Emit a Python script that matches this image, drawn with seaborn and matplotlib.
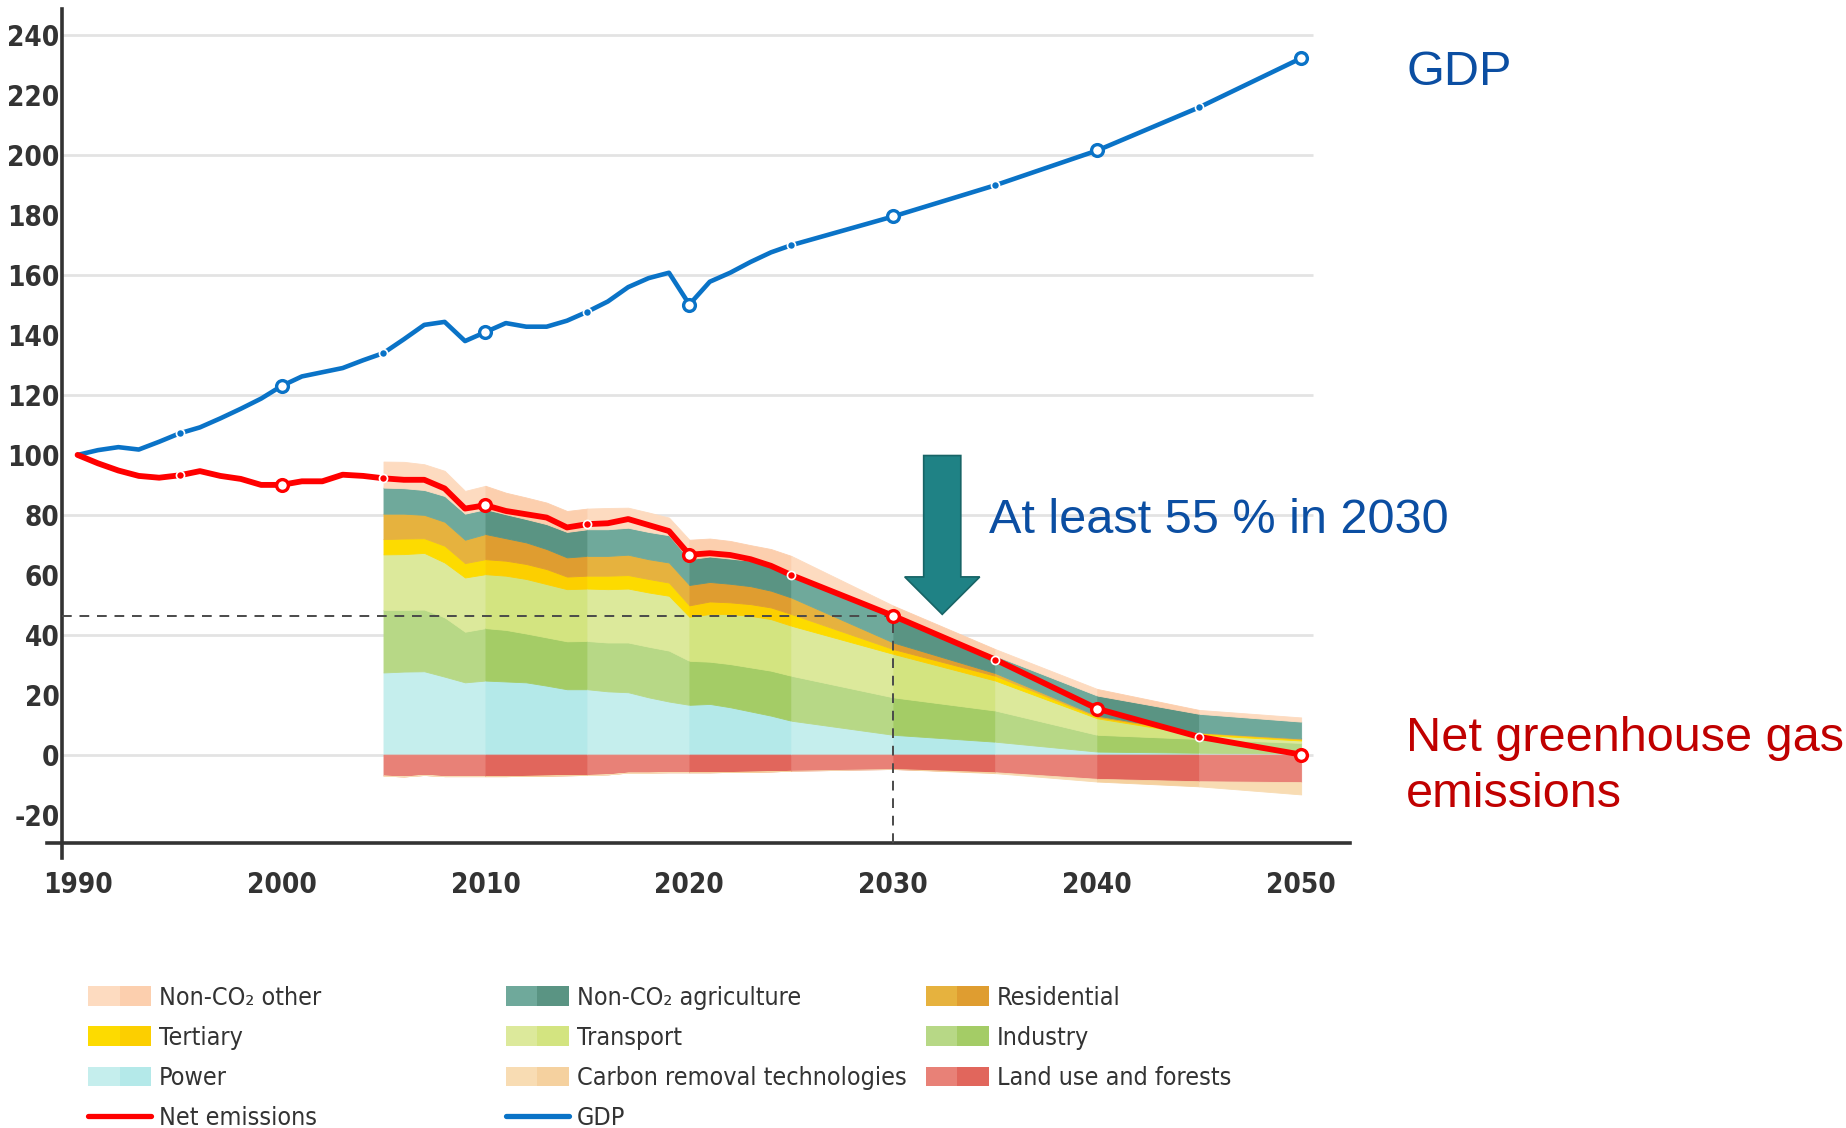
import numpy as np
import pandas as pd
import matplotlib
matplotlib.use('Agg')
import matplotlib.pyplot as plt
import seaborn as sns
from matplotlib import font_manager as fm
from matplotlib.patches import Patch, FancyArrow
from matplotlib.lines import Line2D
from matplotlib.legend_handler import HandlerTuple

# ---- values (index, 1990 = 100) ----
line_years = list(range(1990, 2026)) + [2030, 2035, 2040, 2045, 2050]
gdp = [100, 101.6, 102.6, 101.8, 104.4, 107.2, 109.2, 112.2, 115.4, 118.8,
       123.0, 126.2, 127.6, 129.0, 131.6, 134.0, 138.6, 143.4, 144.4, 138.0,
       141.0, 144.0, 142.8, 142.8, 144.8, 147.8, 151.2, 156.0, 159.0, 160.8,
       150.2, 157.8, 160.8, 164.4, 167.6, 170.0,
       179.6, 190.0, 201.6, 216.0, 232.4]
net_emissions = [100, 97.2, 94.8, 93.0, 92.4, 93.2, 94.6, 93.0, 92.0, 90.0,
                 90.0, 91.2, 91.2, 93.4, 93.0, 92.2, 91.7, 91.7, 88.8, 82.1,
                 83.2, 81.3, 80.2, 79.1, 75.8, 76.9, 77.2, 78.6, 76.6, 74.6,
                 66.7, 67.2, 66.6, 65.2, 63.0, 59.9,
                 46.3, 31.7, 15.3, 5.9, 0.0]

stack_years = list(range(2005, 2026)) + [2030, 2035, 2040, 2045, 2050]
power = [27.4, 27.7, 27.8, 26.0, 24.1, 24.7, 24.4, 24.1, 23.0, 21.8, 21.8, 21.1, 20.8,
         19.1, 17.7, 16.6, 16.9, 15.8, 14.4, 13.0, 11.3, 6.6, 4.3, 1.0, 0.6, 0.4]
industry = [20.9, 20.6, 20.6, 19.8, 16.9, 17.5, 17.2, 16.3, 16.1, 16.0, 16.1, 16.3, 16.6,
            16.9, 17.0, 14.7, 14.1, 14.4, 14.7, 15.0, 15.0, 12.5, 10.4, 5.6, 4.6, 3.5]
transport = [18.5, 18.6, 18.9, 18.3, 18.1, 18.0, 18.1, 18.2, 17.8, 17.4, 17.5, 17.8, 18.0,
             18.1, 18.3, 14.7, 15.9, 16.7, 17.2, 17.2, 16.7, 14.5, 10.0, 5.5, 1.4, 0.8]
tertiary = [5.1, 5.2, 4.9, 5.6, 4.8, 5.0, 5.0, 5.0, 5.0, 4.2, 4.3, 4.5, 4.5,
            4.5, 4.4, 3.8, 4.2, 3.9, 3.9, 3.9, 3.9, 1.6, 1.6, 0.5, 0.6, 0.4]
residential = [8.5, 8.3, 7.8, 8.0, 7.8, 8.4, 7.5, 7.2, 6.7, 6.4, 6.6, 6.6, 6.8,
               6.6, 6.7, 6.8, 6.5, 6.2, 6.0, 5.6, 5.5, 2.2, 0.9, 0.4, 0.2, 0.3]
agriculture = [8.7, 8.5, 8.3, 8.6, 8.7, 8.3, 8.0, 7.8, 8.3, 8.5, 8.9, 8.9, 9.0,
               9.1, 9.1, 8.6, 8.5, 8.4, 8.5, 8.3, 8.4, 8.4, 5.8, 6.7, 6.2, 5.6]
non_co2_other = [8.7, 8.8, 8.6, 8.4, 7.6, 7.8, 7.2, 7.2, 7.2, 7.0, 6.9, 7.1, 6.7,
                 6.5, 5.9, 6.5, 6.0, 5.9, 5.2, 5.6, 5.5, 3.9, 2.2, 2.2, 1.3, 1.4]
land_use = [-7.0, -7.3, -6.8, -7.2, -7.2, -7.2, -7.2, -7.1, -7.0, -6.9, -6.8, -6.6, -6.0,
            -6.0, -5.9, -5.9, -5.9, -5.8, -5.7, -5.6, -5.4, -4.8, -5.9, -8.1, -8.9, -9.2]
carbon_removal = [0.0] * 21 + [0.0, -0.3, -0.9, -1.7, -4.1]

x_labels = ['1990', '2000', '2010', '2020', '2030', '2040', '2050']

# light / dark shade of each layer (alternating 5-year bands)
shades = {
    'power': ('#c5eeed', '#b4e9e9'),
    'industry': ('#b7d886', '#a4cc66'),
    'transport': ('#dce99b', '#d3e480'),
    'tertiary': ('#fddb00', '#fccf00'),
    'residential': ('#e6b23e', '#df9d30'),
    'agriculture': ('#6fa99b', '#5a9483'),
    'other': ('#fddbc0', '#fccfae'),
    'land': ('#e88177', '#e1665c'),
    'removal': ('#f8dcb3', '#f5d19f'),
}
red = '#ff0000'
blue = '#0a73c7'
dark = '#333333'

sns.set_style('white')
plt.rcParams['font.family'] = ['Liberation Sans', 'DejaVu Sans']
plt.rcParams['axes.unicode_minus'] = False


# look for a condensed face, the chart uses a narrow sans
def wnum(w):
    if isinstance(w, str):
        return fm.weight_dict.get(w, 400)
    return w


def narrow_font(weight):
    best = None
    for f in fm.fontManager.ttflist:
        cond = ('Condensed' in f.name or 'Narrow' in f.name
                or str(f.stretch) in ('condensed', 'semi-condensed', 'extra-condensed'))
        if not cond or f.style != 'normal':
            continue
        d = abs(wnum(f.weight) - weight)
        if best is None or d < best[0]:
            best = (d, f)
    return best[1] if best else None


reg_face = narrow_font(400)
bold_face = narrow_font(700)


def fprop(face, size, weight):
    if face is not None:
        return fm.FontProperties(fname=face.fname, size=size)
    return fm.FontProperties(family=['Liberation Sans', 'DejaVu Sans'], size=size * 0.88,
                             weight=weight)


tick_fp = fprop(bold_face, 20, 'bold')
leg_fp = fprop(reg_face, 18, 'normal')

fig = plt.figure(figsize=(18.46, 11.28), dpi=100)
ax = fig.add_axes([0.02546, 0.2394, 0.7059, 0.7523])
ax.set_xlim(1988.5, 2052.4)
ax.set_ylim(-34.5, 248.7)
axis_x = 1989.25
axis_y = -29.5

# gridlines every 40
ax.hlines(range(0, 241, 40), axis_x, 2050.6, color='#e3e3e3', lw=2, zorder=0)

# stacked areas, drawn band by band so the 5-year shading alternates
sy = np.array(stack_years)
pos_layers = [power, industry, transport, tertiary, residential, agriculture, non_co2_other]
pos_names = ['power', 'industry', 'transport', 'tertiary', 'residential', 'agriculture', 'other']
neg_layers = [land_use, carbon_removal]
neg_names = ['land', 'removal']
bounds = list(range(2005, 2051, 5))
for i in range(len(bounds) - 1):
    m = (sy >= bounds[i]) & (sy <= bounds[i + 1])
    k = i % 2
    ax.stackplot(sy[m], *[np.array(v)[m] for v in pos_layers],
                 colors=[shades[n][k] for n in pos_names],
                 linewidth=0.6, edgecolor='face', zorder=1)
    ax.stackplot(sy[m], *[np.array(v)[m] for v in neg_layers],
                 colors=[shades[n][k] for n in neg_names],
                 linewidth=0.6, edgecolor='face', zorder=1)

# 2030 target guide lines
target = net_emissions[line_years.index(2030)]
ax.hlines(target, axis_x, 2030, color='#4a4a4a', lw=1.4, linestyles=(0, (5, 4)), zorder=3)
ax.vlines(2030, axis_y, target, color='#4a4a4a', lw=1.4, linestyles=(0, (5, 4)), zorder=3)

# lines
df = pd.DataFrame({'year': line_years, 'gdp': gdp, 'net': net_emissions})
sns.lineplot(data=df, x='year', y='gdp', ax=ax, color=blue, lw=3.3, zorder=5,
             solid_joinstyle='round')
sns.lineplot(data=df, x='year', y='net', ax=ax, color=red, lw=4.2, zorder=5,
             solid_joinstyle='round')

big = df[df['year'].isin(range(2000, 2051, 10))]
small = df[df['year'].isin(range(1995, 2046, 10))]
for col, c in [('gdp', blue), ('net', red)]:
    sns.scatterplot(data=big, x='year', y=col, ax=ax, s=72, color='white',
                    edgecolor=c, linewidth=2.4, zorder=6, legend=False)
    sns.scatterplot(data=small, x='year', y=col, ax=ax, s=34, color=c,
                    edgecolor='white', linewidth=1.2, zorder=6, legend=False)

# arrow
ax.add_patch(FancyArrow(2032.4, 99.8, 0, 46.8 - 99.8, width=1.82, head_width=3.68,
                        head_length=12.5, length_includes_head=True,
                        facecolor='#1f8285', edgecolor='#176466', lw=1.2, zorder=7))

# axes styling
for s in ['top', 'right']:
    ax.spines[s].set_visible(False)
ax.spines['left'].set_position(('data', axis_x))
ax.spines['bottom'].set_position(('data', axis_y))
for s in ['left', 'bottom']:
    ax.spines[s].set_color(dark)
    ax.spines[s].set_linewidth(2.6)

ax.set_xticks(range(1990, 2051, 10))
ax.set_xticklabels(x_labels)
ax.set_xticks(range(1995, 2046, 10), minor=True)
ax.set_yticks(range(-20, 241, 20))
ax.tick_params(axis='x', which='major', direction='inout', length=22, width=2.4,
               color=dark, pad=9, labelcolor=dark)
ax.tick_params(axis='x', which='minor', direction='inout', length=12, width=1.5, color=dark)
ax.tick_params(axis='y', length=0, pad=2, labelcolor=dark)
for lbl in ax.get_xticklabels() + ax.get_yticklabels():
    lbl.set_fontproperties(tick_fp)
ax.set_xlabel('')
ax.set_ylabel('')

# callout texts
callout = ['Liberation Sans', 'DejaVu Sans']
fig.text(0.7617, 0.9249, 'GDP', color='#0b4ea2', fontsize=35, family=callout, va='baseline')
fig.text(0.5356, 0.5275, 'At least 55 % in 2030', color='#0b4ea2', fontsize=35,
         family=callout, va='baseline')
fig.text(0.7617, 0.3342, 'Net greenhouse gas', color='#c00000', fontsize=35,
         family=callout, va='baseline')
fig.text(0.7617, 0.2846, 'emissions', color='#c00000', fontsize=35,
         family=callout, va='baseline')


# legends, three columns
def patch_pair(name):
    return (Patch(color=shades[name][0], lw=0), Patch(color=shades[name][1], lw=0))


columns = [
    ([patch_pair('other'), patch_pair('tertiary'), patch_pair('power'),
      Line2D([], [], color=red, lw=3.8)],
     ['Non-CO\u2082 other', 'Tertiary', 'Power', 'Net emissions'], 0.0477),
    ([patch_pair('agriculture'), patch_pair('transport'), patch_pair('removal'),
      Line2D([], [], color=blue, lw=3.8)],
     ['Non-CO\u2082 agriculture', 'Transport', 'Carbon removal technologies', 'GDP'], 0.2741),
    ([patch_pair('residential'), patch_pair('industry'), patch_pair('land')],
     ['Residential', 'Industry', 'Land use and forests'], 0.5016),
]
for handles, labels, x0 in columns:
    fig.legend(handles, labels, loc='upper left', bbox_to_anchor=(x0, 0.1262),
               bbox_transform=fig.transFigure, frameon=False, prop=leg_fp,
               handler_map={tuple: HandlerTuple(ndivide=None, pad=0)},
               handlelength=2.52, handleheight=0.84, handletextpad=0.32,
               labelspacing=0.65, borderpad=0, borderaxespad=0, labelcolor=dark)

fig.savefig('out.png', dpi=100)
